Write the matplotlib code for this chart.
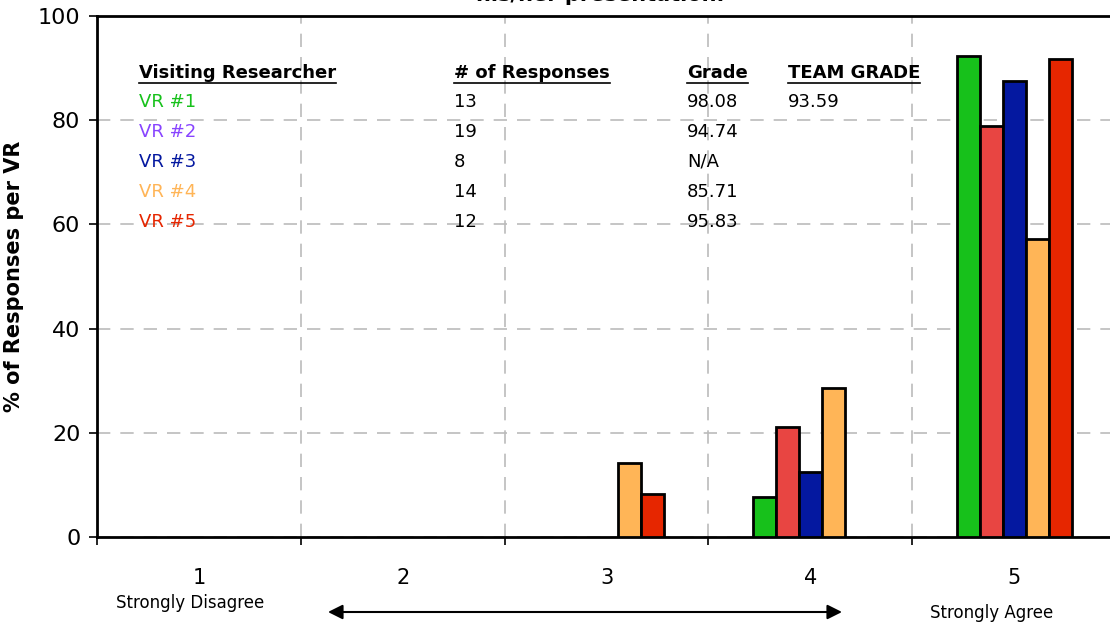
import numpy as np
import matplotlib.pyplot as plt
from matplotlib.ticker import FixedLocator

# data
categories = [1, 2, 3, 4, 5]
series_names = ['VR #1', 'VR #2', 'VR #3', 'VR #4', 'VR #5']
vr1 = [0, 0, 0, 7.69, 92.31]
vr2 = [0, 0, 0, 21.05, 78.95]
vr3 = [0, 0, 0, 12.5, 87.5]
vr4 = [0, 0, 14.29, 28.57, 57.14]
vr5 = [0, 0, 8.33, 0, 91.67]
responses = ['13', '19', '8', '14', '12']
grades = ['98.08', '94.74', 'N/A', '85.71', '95.83']
team_grade = '93.59'

bar_colors = ['#17c11b', '#e84542', '#0418a0', '#ffb557', '#e62600']
text_colors = ['#17c11b', '#8844ff', '#0418a0', '#ffb557', '#e62600']

W, H = 1110, 631
fig = plt.figure(figsize=(W / 100, H / 100), dpi=100)
ax = fig.add_axes([97 / W, (H - 537) / H, (1116 - 97) / W, (537 - 16) / H])

x = np.array(categories, dtype=float)
bw = 0.113
for i, vals in enumerate([vr1, vr2, vr3, vr4, vr5]):
    vals = np.array(vals)
    xs = x + (i - 2) * bw
    mask = vals > 0
    ax.bar(xs[mask], vals[mask], width=bw, color=bar_colors[i],
           edgecolor='black', linewidth=2, zorder=3)

ax.set_xlim(0.5, 5.5)
ax.set_ylim(0, 100)
ax.set_yticks([0, 20, 40, 60, 80, 100])
ax.tick_params(axis='y', labelsize=16, length=6, width=1.2, pad=6)
ax.xaxis.set_major_locator(FixedLocator([0.5, 1.5, 2.5, 3.5, 4.5, 5.5]))
ax.xaxis.set_minor_locator(FixedLocator(categories))
ax.set_xticklabels([])
ax.set_xticklabels([str(c) for c in categories], minor=True)
ax.tick_params(axis='x', which='major', length=6, width=1.2)
ax.tick_params(axis='x', which='minor', length=0, labelsize=15, pad=22)

ax.grid(True, which='major', color='#bbbbbb', linestyle=(0, (8, 6)),
        linewidth=1.2, zorder=0)
for s in ax.spines.values():
    s.set_linewidth(2)
ax.spines['right'].set_visible(False)

ax.set_ylabel('% of Responses per VR', fontsize=15, fontweight='bold', labelpad=10)

# title (only bottom line visible)
fig.text(600 / W, 1 - 1 / H, 'his/her presentation.', ha='center', va='baseline',
         fontsize=15, fontweight='bold')

# scale labels and arrow
fig.text(190 / W, 1 - 603 / H, 'Strongly Disagree', ha='center', va='center', fontsize=12)
fig.text(992 / W, 1 - 613 / H, 'Strongly Agree', ha='center', va='center', fontsize=12)
ax.annotate('', xy=(842 / W, 1 - 612 / H), xytext=(328 / W, 1 - 612 / H),
            xycoords='figure fraction', textcoords='figure fraction',
            arrowprops=dict(arrowstyle='<|-|>', color='black', lw=1.5,
                            mutation_scale=22, shrinkA=0, shrinkB=0))

# embedded table
col_x = [139, 454, 687, 788]
headers = ['Visiting Researcher', '# of Responses', 'Grade', 'TEAM GRADE']
row_y = [73, 102, 132, 162, 192, 222]
head_texts = []
for cx, h in zip(col_x, headers):
    t = fig.text(cx / W, 1 - row_y[0] / H, h, ha='left', va='center',
                 fontsize=13, fontweight='bold')
    head_texts.append(t)
for r in range(5):
    yy = 1 - row_y[r + 1] / H
    fig.text(col_x[0] / W, yy, series_names[r], ha='left', va='center',
             fontsize=13, color=text_colors[r])
    fig.text(col_x[1] / W, yy, responses[r], ha='left', va='center', fontsize=13)
    fig.text(col_x[2] / W, yy, grades[r], ha='left', va='center', fontsize=13)
fig.text(col_x[3] / W, 1 - row_y[1] / H, team_grade, ha='left', va='center', fontsize=13)

# underline headers
fig.canvas.draw()
renderer = fig.canvas.get_renderer()
for t in head_texts:
    bb = t.get_window_extent(renderer)
    yline = bb.y0 - 1
    fig.add_artist(plt.Line2D([bb.x0 / W, bb.x1 / W], [yline / H, yline / H],
                              color='black', lw=1.2))

fig.savefig('out.png', dpi=100)
